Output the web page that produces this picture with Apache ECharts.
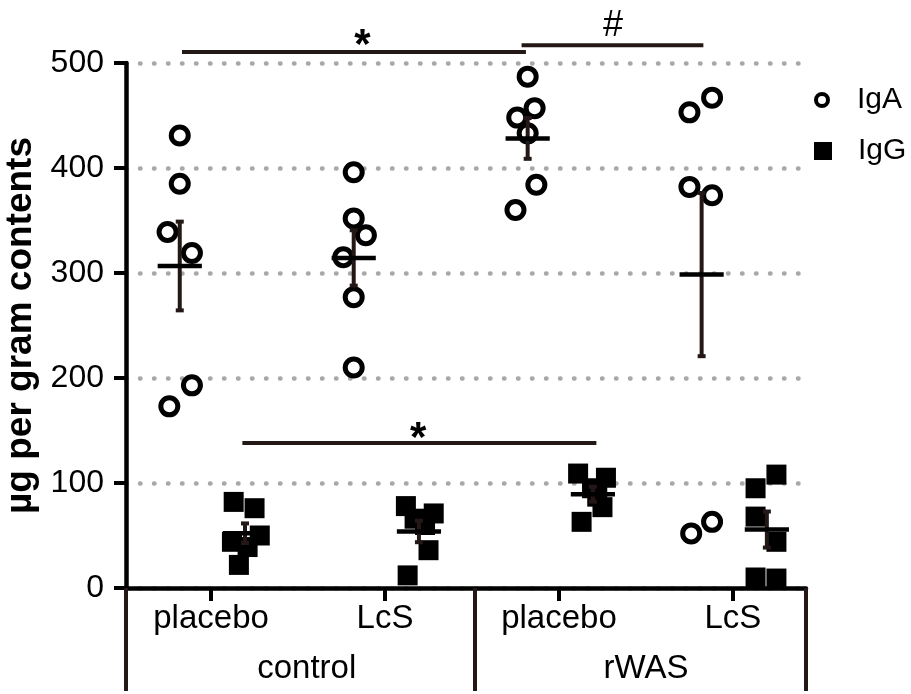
<!DOCTYPE html>
<html>
<head>
<meta charset="utf-8">
<script src="https://cdn.jsdelivr.net/npm/echarts@6/dist/echarts.min.js"></script>
<style>
  html, body { margin: 0; background: #fff; }
  #chart { width: 911px; height: 694px; }
</style>
</head>
<body>
<div id="chart"></div>
<script>
// groups on the x axis: control placebo, control LcS, rWAS placebo, rWAS LcS
const groupLabels = ['placebo', 'LcS', 'placebo', 'LcS'];
const treatmentLabels = ['control', 'rWAS'];
const treatmentCentres = [0.55, 2.5];
const treatmentEdges = [-0.489, 1.514, 3.42];

// IgA, one row per group
const igaValues = [
  [431, 385, 339, 319, 193, 173],
  [396, 352, 336, 315, 277, 210],
  [487, 457, 448, 433, 384, 360],
  [467, 453, 382, 374, 63, 52]
];
const igaJitter = [
  [-0.18, -0.18, -0.25, -0.11, -0.11, -0.24],
  [-0.18, -0.18, -0.11, -0.24, -0.18, -0.18],
  [-0.18, -0.14, -0.24, -0.18, -0.13, -0.25],
  [-0.12, -0.25, -0.25, -0.12, -0.12, -0.24]
];

// IgG, one row per group
const iggValues = [
  [82, 76, 50, 44, 39, 22],
  [78, 71, 66, 60, 36, 12],
  [109, 105, 95, 87, 77, 63],
  [108, 95, 68, 44, 10, 9]
];
const iggJitter = [
  [0.13, 0.25, 0.28, 0.12, 0.21, 0.16],
  [0.12, 0.28, 0.17, 0.23, 0.25, 0.13],
  [0.11, 0.27, 0.19, 0.22, 0.25, 0.13],
  [0.25, 0.13, 0.13, 0.25, 0.13, 0.25]
];
const igaOffset = -0.18;
const iggOffset = 0.195;

// significance brackets
const bracketFrom = [-0.167, 1.785, 0.18];
const bracketTo = [1.81, 2.83, 2.215];
const bracketLevel = [510.5, 517, 138];
const bracketLabelX = [0.87, 2.31, 1.19];
const bracketLabels = ['*', '#', '*'];

const FONT = "'Liberation Sans', Arial, sans-serif";
const INK = '#231815';

function points(values, jitter) {
  const out = [];
  values.forEach((vals, g) => vals.forEach((v, k) => out.push([g + jitter[g][k], v])));
  return out;
}

function meanSem(values, offset) {
  return values.map((vals, g) => {
    const n = vals.length;
    const m = vals.reduce((a, b) => a + b, 0) / n;
    const sd = Math.sqrt(vals.reduce((a, b) => a + (b - m) * (b - m), 0) / (n - 1));
    return [g + offset, m, sd / Math.sqrt(n)];
  });
}

function renderErr(params, api) {
  const x = api.value(0), m = api.value(1), s = api.value(2);
  const c = api.coord([x, m]);
  const top = api.coord([x, m + s]);
  const bot = api.coord([x, m - s]);
  const hw = api.size([0.127, 0])[0];
  const style = { stroke: INK, lineWidth: 4 };
  return {
    type: 'group',
    children: [
      { type: 'line', shape: { x1: c[0], y1: top[1], x2: c[0], y2: bot[1] }, style: style },
      { type: 'line', shape: { x1: c[0] - 4, y1: top[1], x2: c[0] + 4, y2: top[1] }, style: style },
      { type: 'line', shape: { x1: c[0] - 4, y1: bot[1], x2: c[0] + 4, y2: bot[1] }, style: style },
      { type: 'line', shape: { x1: c[0] - hw, y1: c[1], x2: c[0] + hw, y2: c[1] }, style: { stroke: '#000', lineWidth: 4.5 } }
    ]
  };
}

function renderBracket(params, api) {
  const i = params.dataIndex;
  const a = api.coord([api.value(0), api.value(2)]);
  const b = api.coord([api.value(1), api.value(2)]);
  const t = api.coord([api.value(3), api.value(2)]);
  const label = bracketLabels[i];
  const star = label === '*';
  const dy = star ? (i === 2 ? -4 : -6) : -19;
  return {
    type: 'group',
    children: [
      { type: 'line', shape: { x1: a[0], y1: a[1], x2: b[0], y2: b[1] }, style: { stroke: INK, lineWidth: 4 } },
      { type: 'text', x: t[0], y: t[1] + dy, style: {
        text: label, fill: '#000', font: (star ? 'bold 42px ' : '36px ') + FONT,
        align: 'center', verticalAlign: 'middle' } }
    ]
  };
}

const chart = echarts.init(document.getElementById('chart'));

const bracketData = bracketFrom.map((f, i) => [f, bracketTo[i], bracketLevel[i], bracketLabelX[i]]);

chart.setOption({
  animation: false,
  textStyle: { fontFamily: FONT, color: '#000' },
  grid: { left: 126, right: 105, top: 63, bottom: 106, outerBoundsMode: 'none', containLabel: false },
  legend: [
    {
      data: [{ name: 'IgA', icon: 'circle', itemStyle: { color: '#fff', borderColor: '#000', borderWidth: 4 } }],
      left: 814, top: 85, orient: 'vertical', selectedMode: false,
      itemWidth: 12, itemHeight: 12, padding: 0,
      textStyle: { fontSize: 30, color: '#000', padding: [0, 0, 0, 24] }
    },
    {
      data: [{ name: 'IgG', icon: 'rect', itemStyle: { color: '#000' } }],
      left: 814, top: 136, orient: 'vertical', selectedMode: false,
      itemWidth: 18, itemHeight: 18, padding: 0,
      textStyle: { fontSize: 30, color: '#000', padding: [0, 0, 0, 21] }
    }
  ],
  xAxis: [
    {
      type: 'value', min: -0.489, max: 3.42, position: 'bottom',
      splitLine: { show: false },
      axisLine: { show: true, onZero: false, lineStyle: { color: '#000', width: 4.5 } },
      axisTick: { show: true, length: 13, lineStyle: { color: '#000', width: 4 }, customValues: [0, 1, 2, 3] },
      axisLabel: {
        customValues: [0, 1, 2, 3], fontSize: 33, color: '#000', margin: 14,
        formatter: v => groupLabels[Math.round(v)]
      }
    },
    {
      type: 'value', min: -0.489, max: 3.42, position: 'bottom',
      splitLine: { show: false },
      axisLine: { show: false, onZero: false },
      axisTick: { show: true, length: 103, lineStyle: { color: INK, width: 4 }, customValues: treatmentEdges },
      axisLabel: {
        customValues: treatmentCentres, fontSize: 33, color: '#000', margin: 64,
        formatter: v => treatmentLabels[v < 1.5 ? 0 : 1]
      }
    }
  ],
  yAxis: {
    type: 'value', min: 0, max: 500, interval: 100,
    name: 'µg per gram contents', nameLocation: 'middle', nameGap: 75,
    nameTextStyle: { fontSize: 37, fontWeight: 'bold', color: '#000' },
    axisLine: { show: true, onZero: false, lineStyle: { color: '#000', width: 4.5 } },
    axisTick: { show: true, length: 12, lineStyle: { color: '#000', width: 4 } },
    axisLabel: { fontSize: 32, color: '#000', margin: 22 },
    splitLine: { show: true, lineStyle: { color: '#a8a8a8', width: 4.5, type: [0.5, 13.5], cap: 'round' } }
  },
  series: [
    {
      name: 'IgA', type: 'scatter', xAxisIndex: 0, symbol: 'circle', symbolSize: 17,
      itemStyle: { color: '#fff', borderColor: '#000', borderWidth: 5, opacity: 1 },
      data: points(igaValues, igaJitter), z: 3
    },
    {
      name: 'IgG', type: 'scatter', xAxisIndex: 0, symbol: 'rect', symbolSize: 20,
      itemStyle: { color: '#000', opacity: 1 },
      data: points(iggValues, iggJitter), z: 3
    },
    {
      type: 'custom', xAxisIndex: 0, renderItem: renderErr, z: 4,
      data: meanSem(igaValues, igaOffset).concat(meanSem(iggValues, iggOffset))
    },
    {
      type: 'custom', xAxisIndex: 0, renderItem: renderBracket, z: 4, clip: false,
      data: bracketData
    }
  ]
});
</script>
</body>
</html>
